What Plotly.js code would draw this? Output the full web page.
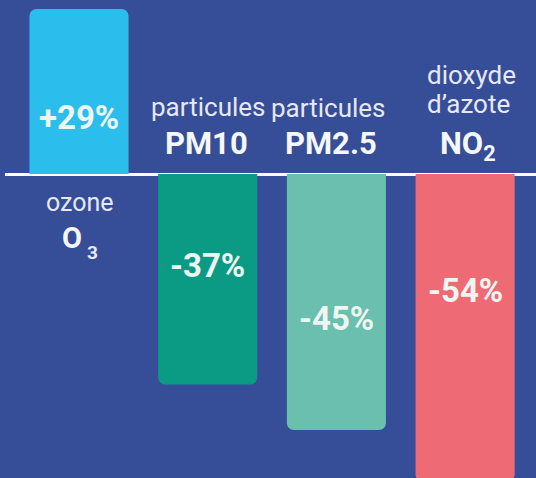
<!DOCTYPE html>
<html>
<head>
<meta charset="utf-8">
<script src="https://cdn.plot.ly/plotly-3.0.1.min.js"></script>
<style>
html,body{margin:0;padding:0;background:#364d98;}
#chart{width:536px;height:478px;}
</style>
</head>
<body>
<div id="chart"></div>
<script>
// Data
const categories = ["ozone", "PM10", "PM2.5", "NO2"];
const values = [29, -37, -45, -54];
const valueLabels = ["+29%", "-37%", "-45%", "-54%"];
const barColors = ["#2bbdec", "#0b9a84", "#6abfae", "#ee6b76"];

const BG = "#364d98";
const FONT = "Roboto, 'Open Sans', sans-serif";
const LIGHT = "#e6e9f4";
const WHITE = "#f4f7fb";
const VALCOL = "#eef6f1";

// px per unit: 165/29
const pxPerUnit = 165 / 29;
const zeroPx = 174;
const H = 478;
const yTop = zeroPx / pxPerUnit;
const yBot = -(H - zeroPx) / pxPerUnit;
function yAt(px){ return (zeroPx - px) / pxPerUnit; }

const step = 128.7;
const c0 = 79 - 5;
const xr = [-c0 / step, (531 - c0) / step];

const trace = {
  type: "bar",
  x: categories.map((c, i) => i),
  y: values,
  marker: {color: barColors, line: {width: 0}},
  hoverinfo: "skip"
};

// label vertical positions (pixel rows in the design)
const valueLabelPx = [117, 265, 318, 290];
const annotations = [];
valueLabels.forEach((t, i) => {
  annotations.push({
    x: i, y: yAt(valueLabelPx[i]), xref: "x", yref: "y",
    text: "<b>" + t + "</b>", showarrow: false,
    font: {family: FONT, size: 33, color: VALCOL},
    xanchor: "center", yanchor: "middle"
  });
});

function txt(x, py, text, size, color, xshift){
  annotations.push({
    x: x, y: yAt(py), xref: "x", yref: "y", text: text, showarrow: false,
    font: {family: FONT, size: size, color: color},
    xanchor: "center", yanchor: "middle", xshift: xshift || 0
  });
}
// ozone
txt(0, 202, "ozone", 25, LIGHT, 1);
txt(0, 238, "<b>O</b>", 29, WHITE, -7);
txt(0, 252, "<b>3</b>", 19, LIGHT, 13);
// PM10
txt(1, 107, "particules", 26, LIGHT, 1);
txt(1, 143, "<b>PM10</b>", 31, WHITE, -1);
// PM2.5
txt(2, 108, "particules", 26, LIGHT, -8);
txt(2, 143, "<b>PM2.5</b>", 31, WHITE, -5);
// NO2
txt(3, 75, "dioxyde", 26, LIGHT, 6);
txt(3, 104, "d\u2019azote", 26, LIGHT, 3);
txt(3, 145, "<b>NO<sub>2</sub></b>", 31, WHITE, 3);

const layout = {
  width: 536, height: 478,
  margin: {l: 5, r: 0, t: 0, b: 0, pad: 0},
  paper_bgcolor: BG, plot_bgcolor: BG,
  showlegend: false,
  bargap: 0.23,
  barcornerradius: 7,
  xaxis: {range: xr, showgrid: false, zeroline: false, showticklabels: false, ticks: "", showline: false},
  yaxis: {range: [yBot, yTop], showgrid: false, zeroline: true, zerolinecolor: "#ffffff", zerolinewidth: 3,
          showticklabels: false, ticks: "", showline: false},
  annotations: annotations
};

Plotly.newPlot("chart", [trace], layout, {displayModeBar: false, staticPlot: true});
</script>
</body>
</html>
